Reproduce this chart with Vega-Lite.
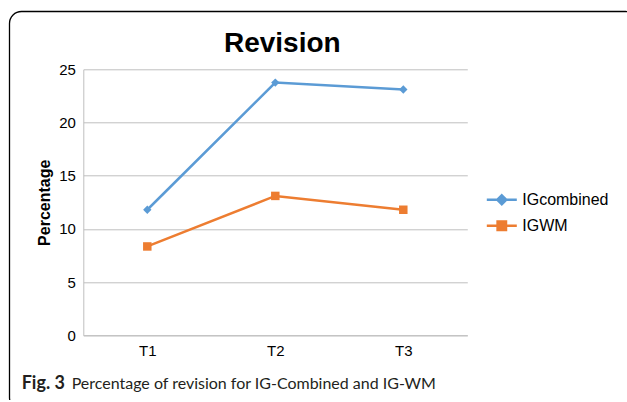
{
  "$schema": "https://vega.github.io/schema/vega-lite/v6.json",
  "padding": {"left": 8.3, "top": 10.3, "right": -10, "bottom": -10},
  "background": "white",
  "config": {
    "concat": {"spacing": 0},
    "view": {"stroke": "#000000", "strokeWidth": 1.3, "cornerRadius": 12},
    "font": "Liberation Sans"
  },
  "title": {
    "text": "Percentage of revision for IG-Combined and IG-WM",
    "orient": "bottom", "anchor": "start", "dx": 63, "offset": -21,
    "baseline": "alphabetic", "font": "Lato", "fontSize": 16,
    "fontWeight": "normal", "color": "#231F20"
  },
  "vconcat": [
    {
      "title": {
        "text": "Fig. 3",
        "orient": "bottom", "anchor": "start", "dx": 13, "offset": -21,
        "baseline": "alphabetic", "font": "Lato", "fontSize": 18,
        "fontWeight": "bold", "color": "#231F20"
      },
      "vconcat": [
        {
          "width": 628,
          "height": 398,
          "title": {
            "text": "Revision", "anchor": "middle", "dx": -41, "offset": -69,
            "baseline": "alphabetic", "font": "Liberation Sans", "fontSize": 28,
            "fontWeight": "bold", "color": "#000000"
          },
          "data": {
            "values": [
              {"time": "T1", "series": "IGcombined", "value": 11.8},
              {"time": "T2", "series": "IGcombined", "value": 23.75},
              {"time": "T3", "series": "IGcombined", "value": 23.1},
              {"time": "T1", "series": "IGWM", "value": 8.35},
              {"time": "T2", "series": "IGWM", "value": 13.1},
              {"time": "T3", "series": "IGWM", "value": 11.8}
            ]
          },
          "encoding": {
            "x": {
              "field": "time", "type": "ordinal",
              "scale": {"type": "point", "range": [74, 458], "padding": 0.5},
              "axis": {
                "title": null, "labelAngle": 0, "ticks": false, "offset": -74,
                "domainColor": "#BFBFBF", "domainWidth": 1,
                "labelFont": "Liberation Sans", "labelFontSize": 15,
                "labelColor": "#000000", "labelPadding": 8
              }
            },
            "y": {
              "field": "value", "type": "quantitative",
              "scale": {"domain": [0, 25], "range": [324, 58], "nice": false},
              "axis": {
                "title": "Percentage", "values": [0, 5, 10, 15, 20, 25],
                "ticks": false, "offset": -74,
                "domainColor": "#BFBFBF", "domainWidth": 1,
                "gridColor": "#BFBFBF", "gridWidth": 1,
                "labelFont": "Liberation Sans", "labelFontSize": 15,
                "labelColor": "#000000", "labelPadding": 8,
                "titleFont": "Liberation Sans", "titleFontSize": 16,
                "titleFontWeight": "bold", "titleColor": "#000000",
                "titlePadding": 6
              }
            },
            "color": {
              "field": "series", "type": "nominal",
              "scale": {"domain": ["IGcombined", "IGWM"], "range": ["#5B9BD5", "#ED7D31"]},
              "legend": {
                "orient": "none", "legendX": 476, "legendY": 172,
                "title": null, "padding": 0, "rowPadding": 0,
                "symbolSize": 900, "labelOffset": 4,
                "labelFont": "Liberation Sans", "labelFontSize": 16,
                "labelColor": "#000000",
                "encode": {
                  "symbols": {
                    "update": {
                      "shape": {"signal": "datum.value === 'IGcombined' ? 'M-1,0L1,0M0,-0.3L0.3,0L0,0.3L-0.3,0Z' : 'M-1,0L1,0M-0.28,-0.28L0.28,-0.28L0.28,0.28L-0.28,0.28Z'"},
                      "fill": {"signal": "scale('color', datum.value)"},
                      "stroke": {"signal": "scale('color', datum.value)"},
                      "strokeWidth": {"value": 2.5},
                      "size": {"value": 900},
                      "opacity": {"value": 1}
                    }
                  }
                }
              }
            }
          },
          "layer": [
            {"mark": {"type": "line", "strokeWidth": 2.5}},
            {
              "transform": [{"filter": "datum.series === 'IGcombined'"}],
              "mark": {"type": "point", "filled": true, "opacity": 1, "size": 70, "shape": "diamond"}
            },
            {
              "transform": [{"filter": "datum.series === 'IGWM'"}],
              "mark": {"type": "point", "filled": true, "opacity": 1, "size": 72, "shape": "square"}
            }
          ]
        }
      ]
    }
  ]
}
